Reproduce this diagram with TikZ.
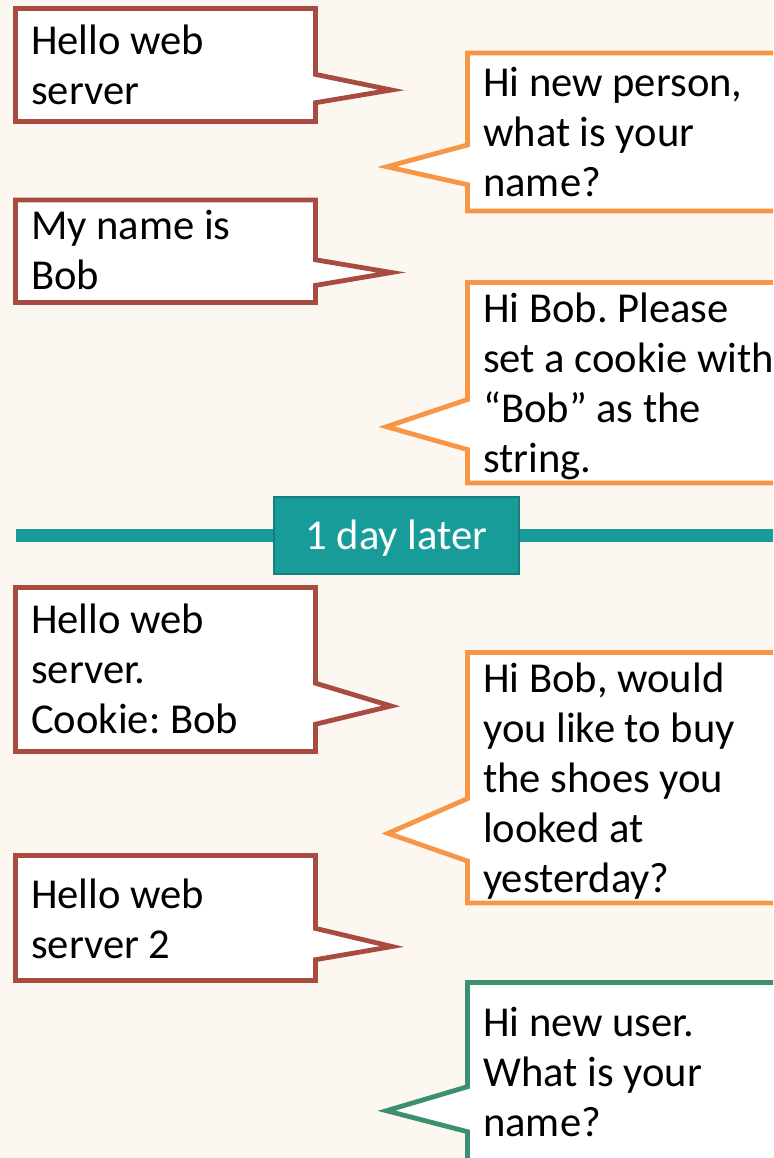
\documentclass[tikz,border=0pt]{standalone}
\usepackage{fontspec}
\setmainfont{Carlito}
\frenchspacing
\definecolor{paper}{HTML}{FCF7F1}
\definecolor{clientline}{HTML}{A84C42}
\definecolor{serverline}{HTML}{F79646}
\definecolor{freshline}{HTML}{3C8F6F}
\definecolor{dividerteal}{HTML}{189C99}
\definecolor{dividerdark}{HTML}{13807D}

\begin{document}
\begin{tikzpicture}[x=1pt,y=-1pt,
  bubble/.style={fill=white, line width=4.8pt, line join=miter},
  clientbubble/.style={bubble, draw=clientline},
  serverbubble/.style={bubble, draw=serverline},
  freshbubble/.style={bubble, draw=freshline},
  msg/.style={anchor=base west, inner sep=0pt, text width=500pt, align=flush left,
              font=\fontsize{42.6}{50}\selectfont\frenchspacing},
  divider/.style={draw=dividerteal, line width=13pt},
  daylabel/.style={fill=dividerteal, draw=dividerdark, line width=2pt,
                   minimum width=245pt, minimum height=77pt, inner sep=0pt,
                   text=white, text height=27pt, text depth=0pt,
                   font=\fontsize{42.6}{50}\selectfont},
]
% page
\path[use as bounding box, fill=paper] (0,0) rectangle (773,1158);
\clip (0,0) rectangle (773,1158);

% ---- first visit ----
\draw[clientbubble] (15.5,8.5) -- (315.5,8.5) -- (315.5,74.4) -- (391.5,90)
  -- (315.5,102.7) -- (315.5,121.5) -- (15.5,121.5) -- cycle;
\node[msg] (c1) at (31,55) {Hello web\\server};

\draw[serverbubble] (467.5,53) -- (790,53) -- (790,211) -- (467.5,211)
  -- (467.5,184.7) -- (387,166.7) -- (467.5,145) -- cycle;
\node[msg] (s2) at (483,97) {Hi new person,\\what is your\\name?};

\draw[clientbubble] (15.5,200) -- (315.5,200) -- (315.5,259.8) -- (391.5,272.5)
  -- (315.5,285.4) -- (315.5,302.5) -- (15.5,302.5) -- cycle;
\node[msg] (c3) at (31,240) {My name is\\Bob};

\draw[serverbubble] (467.5,282.5) -- (790,282.5) -- (790,483) -- (467.5,483)
  -- (467.5,449.6) -- (386.5,426.7) -- (467.5,399.5) -- cycle;
\node[msg] (s4) at (483,322) {Hi Bob. Please\\set a cookie with\\“Bob” as the\\string.};

% ---- time gap ----
\coordinate (divL) at (16,535);
\coordinate (divR) at (790,535);
\draw[divider] (divL) -- (divR);
\node[daylabel] (later) at (396.5,535.5) {1 day later};

% ---- second visit ----
\draw[clientbubble] (15.5,587.5) -- (315.5,587.5) -- (315.5,683.2) -- (391,706)
  -- (315.5,724.2) -- (315.5,751.5) -- (15.5,751.5) -- cycle;
\node[msg] (c5) at (31,633.5) {Hello web\\server.\\Cookie: Bob};

\draw[serverbubble] (467.5,652.5) -- (790,652.5) -- (790,903) -- (467.5,903)
  -- (467.5,861) -- (388,833.3) -- (467.5,798.6) -- cycle;
\node[msg] (s6) at (483,692) {Hi Bob, would\\you like to buy\\the shoes you\\looked at\\yesterday?};

\draw[clientbubble] (15.5,855.5) -- (315.5,855.5) -- (315.5,928.4) -- (392,946.5)
  -- (315.5,959.7) -- (315.5,980.5) -- (15.5,980.5) -- cycle;
\node[msg] (c7) at (31,908) {Hello web\\server 2};

\draw[freshbubble] (467.5,982.5) -- (790,982.5) -- (790,1161.5) -- (467.5,1161.5)
  -- (467.5,1131.7) -- (386.5,1110.7) -- (467.5,1086.7) -- cycle;
\node[msg] (s8) at (483,1036) {Hi new user.\\What is your\\name?};
\end{tikzpicture}
\end{document}
